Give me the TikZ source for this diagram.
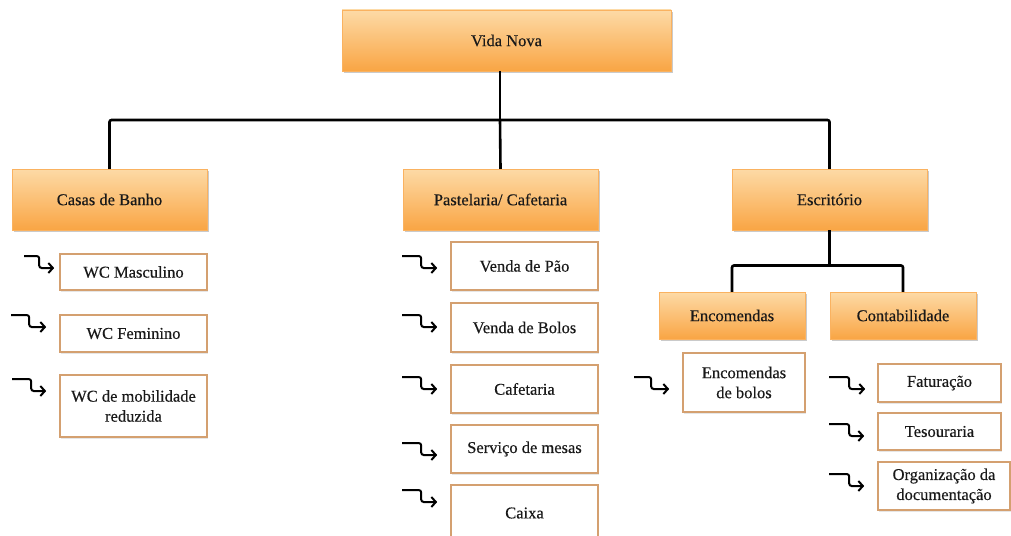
\documentclass[tikz,border=0pt]{standalone}
\usepackage{fontspec}
\setmainfont{Liberation Serif}
\newfontfamily\boxfont[FakeBold=0.35]{Liberation Serif}
\usetikzlibrary{shadows,calc,arrows.meta}
\definecolor{otop}{RGB}{253,218,166}
\definecolor{obot}{RGB}{249,165,68}
\definecolor{tan}{RGB}{212,160,112}
\definecolor{txt}{RGB}{25,25,25}
\tikzset{
  mainbox/.style={shading=axis, top color=otop, bottom color=obot, draw=obot!85!white, line width=0.3pt,
    drop shadow={shadow xshift=1.5pt, shadow yshift=-2pt, opacity=0.35, fill=black!60},
    inner sep=0pt, align=center, text=txt, font=\boxfont\fontsize{16.5}{20}\selectfont},
  subbox/.style={fill=white, draw=tan, line width=1.6pt,
    drop shadow={shadow xshift=1pt, shadow yshift=-1.5pt, opacity=0.2, fill=black!50},
    inner sep=0pt, align=center, text=txt, font=\boxfont\fontsize{16.5}{20}\selectfont},
  conn/.style={line width=2.6pt, black, rounded corners=2pt},
  barrow/.style={line width=2pt, black, rounded corners=2.5pt, -{Straight Barb[length=4.5pt,width=10pt,line width=2pt]}}
}
\newcommand\bentarr[5]{\draw[barrow] ($(#1.west)+(#2,#3)$) -- ++(#4,0) -- ++(0,12) -- ++(#5,0);}
\begin{document}
\begin{tikzpicture}[x=1pt,y=-1pt]
\useasboundingbox (0,0) rectangle (1011,535);
% level 0
\node[mainbox, minimum width=329pt, minimum height=61pt] (vn) at (506.5,40.5) {Vida Nova};
% level 1
\node[mainbox, minimum width=195pt, minimum height=61pt] (cb) at (109.5,199.5) {Casas de Banho};
\node[mainbox, minimum width=195pt, minimum height=61pt] (pc) at (500.5,199.5) {Pastelaria/ Cafetaria};
\node[mainbox, minimum width=195pt, minimum height=61pt] (esc) at (829.5,199.5) {Escritório};
% level 2
\node[mainbox, minimum width=146pt, minimum height=47pt] (enc) at (732,315.5) {Encomendas};
\node[mainbox, minimum width=146pt, minimum height=47pt] (cont) at (903,315.5) {Contabilidade};
% sub boxes
\node[subbox, minimum width=147pt, minimum height=36pt] (wcm) at (133.5,272) {WC Masculino};
\node[subbox, minimum width=147pt, minimum height=37pt] (wcf) at (133.5,333.5) {WC Feminino};
\node[subbox, minimum width=147pt, minimum height=62pt] (wcr) at (133.5,406) {WC de mobilidade\\reduzida};
\node[subbox, minimum width=147pt, minimum height=48pt] (vp) at (524.5,266) {Venda de Pão};
\node[subbox, minimum width=147pt, minimum height=49pt] (vb) at (524.5,327.5) {Venda de Bolos};
\node[subbox, minimum width=147pt, minimum height=48pt] (caf) at (524.5,389) {Cafetaria};
\node[subbox, minimum width=147pt, minimum height=48pt] (sm) at (524.5,449) {Serviço de mesas};
\node[subbox, minimum width=147pt, minimum height=56pt] (cx) at (524.5,513) {Caixa};
\node[subbox, minimum width=122pt, minimum height=59pt] (eb) at (744,382.5) {Encomendas\\de bolos};
\node[subbox, minimum width=123pt, minimum height=38pt] (fat) at (939.5,383) {Faturação};
\node[subbox, minimum width=123pt, minimum height=37pt] (tes) at (939.5,431.5) {Tesouraria};
\node[subbox, minimum width=132pt, minimum height=48pt] (org) at (944,486) {Organização da\\documentação};
% connectors
\coordinate (j1) at (500,120);
\coordinate (j2) at (829.5,265.5);
\draw[conn] (j1 |- vn.south) -- (j1);
\draw[conn] (cb.north) |- (j1) -| (esc.north);
\draw[conn] (j1) -- (pc.north);
\draw[conn] (esc.south) -- (j2);
\draw[conn] (enc.north) |- (j2) -| (cont.north);
% bent arrows
\bentarr{wcm}{-35}{-16}{15}{15}
\bentarr{wcf}{-48}{-18.5}{18}{17}
\bentarr{wcr}{-47}{-27}{19}{15}
\bentarr{vp}{-48}{-10}{19}{16}
\bentarr{vb}{-48}{-12.5}{19}{16}
\bentarr{caf}{-48}{-12}{19}{16}
\bentarr{sm}{-48}{-6}{19}{16}
\bentarr{cx}{-48}{-23}{19}{16}
\bentarr{eb}{-48}{-5.5}{17}{18}
\bentarr{fat}{-48}{-6}{20}{16}
\bentarr{tes}{-48}{-7.5}{20}{15}
\bentarr{org}{-48}{-12}{20}{15}
\end{tikzpicture}
\end{document}
